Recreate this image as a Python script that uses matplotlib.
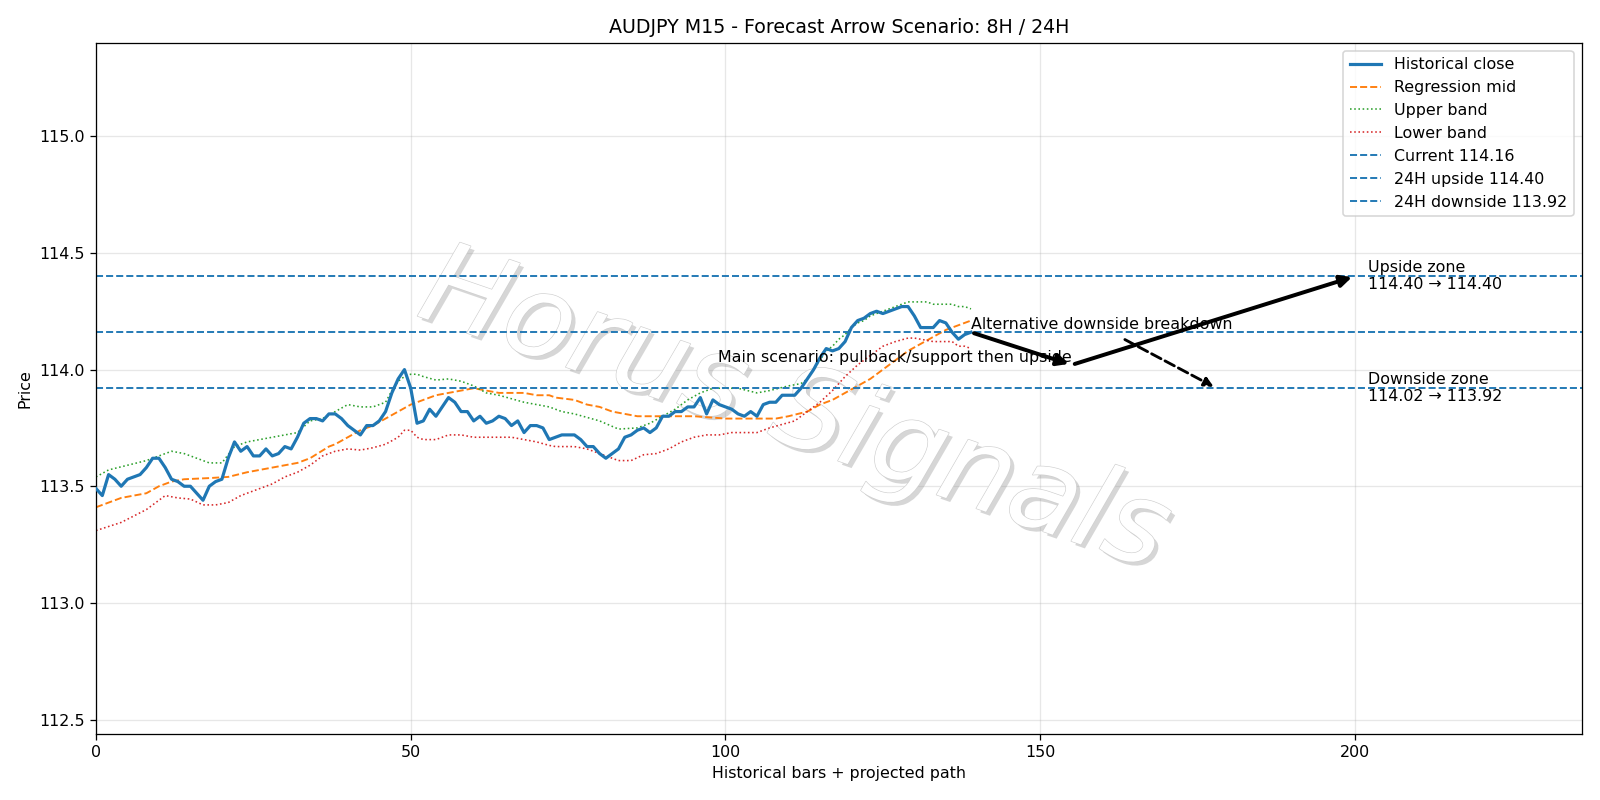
import matplotlib
matplotlib.use("Agg")
import matplotlib.pyplot as plt
import matplotlib.patheffects as pe

# data
close = [113.49, 113.46, 113.55, 113.53, 113.50, 113.53, 113.54, 113.55, 113.58, 113.62,
         113.62, 113.58, 113.53, 113.52, 113.50, 113.50, 113.47, 113.44, 113.50, 113.52,
         113.53, 113.62, 113.69, 113.65, 113.67, 113.63, 113.63, 113.66, 113.63, 113.64,
         113.67, 113.66, 113.71, 113.77, 113.79, 113.79, 113.78, 113.81, 113.81, 113.79,
         113.76, 113.74, 113.72, 113.76, 113.76, 113.78, 113.82, 113.90, 113.96, 114.00,
         113.92, 113.77, 113.78, 113.83, 113.80, 113.84, 113.88, 113.86, 113.82, 113.82,
         113.78, 113.80, 113.77, 113.78, 113.80, 113.79, 113.76, 113.78, 113.73, 113.76,
         113.76, 113.75, 113.70, 113.71, 113.72, 113.72, 113.72, 113.70, 113.67, 113.67,
         113.64, 113.62, 113.64, 113.66, 113.71, 113.72, 113.74, 113.75, 113.73, 113.75,
         113.80, 113.80, 113.82, 113.82, 113.84, 113.84, 113.88, 113.81, 113.87, 113.85,
         113.84, 113.83, 113.81, 113.80, 113.82, 113.80, 113.85, 113.86, 113.86, 113.89,
         113.89, 113.89, 113.92, 113.96, 114.00, 114.05, 114.09, 114.08, 114.09, 114.12,
         114.18, 114.21, 114.22, 114.24, 114.25, 114.24, 114.25, 114.26, 114.27, 114.27,
         114.23, 114.18, 114.18, 114.18, 114.21, 114.20, 114.16, 114.13, 114.15, 114.16]

mid_x = [0, 4, 8, 10, 12, 14, 18, 21, 24, 28, 32, 34, 37, 38, 40, 42, 44, 46, 48, 50,
         52, 54, 56, 58, 60, 62, 64, 66, 68, 70, 72, 73, 76, 78, 80, 82, 84, 86, 90, 95,
         100, 105, 108, 110, 113, 115, 117, 119, 121, 123, 125, 127, 129, 131, 133, 135, 137, 139]
mid = [113.41, 113.45, 113.47, 113.50, 113.52, 113.53, 113.535, 113.54, 113.56, 113.58,
       113.60, 113.62, 113.67, 113.68, 113.71, 113.74, 113.76, 113.79, 113.82, 113.85,
       113.87, 113.89, 113.90, 113.91, 113.92, 113.91, 113.90, 113.90, 113.90, 113.89,
       113.89, 113.88, 113.87, 113.85, 113.84, 113.82, 113.81, 113.80, 113.80, 113.80,
       113.79, 113.79, 113.79, 113.80, 113.82, 113.85, 113.87, 113.90, 113.93, 113.96,
       114.00, 114.04, 114.08, 114.11, 114.14, 114.17, 114.19, 114.21]

upper_x = [0, 2, 5, 8, 10, 12, 14, 16, 18, 20, 22, 24, 26, 28, 30, 32, 34, 36, 38, 40,
           42, 44, 46, 47, 48, 49, 50, 51, 52, 54, 56, 58, 60, 62, 64, 66, 68, 70, 72, 74,
           76, 80, 83, 86, 88, 90, 92, 94, 96, 98, 100, 102, 105, 107, 110, 112, 113, 114,
           115, 116, 117, 118, 119, 120, 121, 122, 123, 124, 125, 126, 127, 128, 129, 130,
           131, 132, 133, 134, 135, 136, 137, 138, 139]
upper = [113.54, 113.57, 113.59, 113.61, 113.63, 113.65, 113.64, 113.62, 113.60, 113.60,
         113.67, 113.69, 113.70, 113.71, 113.72, 113.73, 113.78, 113.79, 113.82, 113.85,
         113.84, 113.84, 113.86, 113.91, 113.95, 113.97, 113.98, 113.98, 113.97, 113.955,
         113.96, 113.95, 113.93, 113.90, 113.89, 113.875, 113.86, 113.85, 113.84, 113.82,
         113.81, 113.78, 113.745, 113.75, 113.77, 113.80, 113.83, 113.87, 113.90, 113.92,
         113.92, 113.92, 113.90, 113.91, 113.93, 113.94, 113.96, 114.00, 114.04, 114.08,
         114.10, 114.13, 114.15, 114.18, 114.20, 114.21, 114.23, 114.24, 114.25, 114.26,
         114.27, 114.28, 114.29, 114.29, 114.29, 114.29, 114.28, 114.28, 114.28, 114.28,
         114.27, 114.27, 114.26]

lower_x = [0, 4, 8, 10, 11, 13, 15, 17, 19, 21, 23, 25, 28, 30, 32, 34, 36, 38, 40, 42,
           44, 46, 48, 49, 50, 51, 52, 54, 56, 58, 60, 62, 64, 66, 68, 70, 72, 73, 76, 78,
           80, 82, 83, 85, 87, 89, 91, 93, 95, 97, 99, 101, 103, 105, 107, 109, 111, 113,
           115, 117, 119, 121, 123, 125, 127, 129, 130, 131, 133, 135, 136, 137, 138, 139]
lower = [113.31, 113.345, 113.40, 113.44, 113.46, 113.45, 113.445, 113.42, 113.42, 113.43,
         113.46, 113.48, 113.51, 113.54, 113.56, 113.59, 113.63, 113.65, 113.66, 113.655,
         113.665, 113.68, 113.71, 113.74, 113.74, 113.71, 113.70, 113.70, 113.72, 113.72,
         113.71, 113.71, 113.71, 113.71, 113.70, 113.69, 113.675, 113.67, 113.67, 113.66,
         113.64, 113.62, 113.61, 113.61, 113.635, 113.64, 113.66, 113.69, 113.71, 113.72,
         113.72, 113.73, 113.73, 113.73, 113.75, 113.765, 113.78, 113.82, 113.86, 113.91,
         113.97, 114.02, 114.06, 114.10, 114.12, 114.135, 114.135, 114.13, 114.12, 114.12,
         114.12, 114.10, 114.10, 114.09]

current = 114.16
up_24h = 114.40
down_24h = 113.92
pullback = 114.02
down_start = 114.02

# projected path (bar index, price)
main_pts = [(139, current), (155, pullback), (200, up_24h)]
alt_pts = [(163, 114.135), (178, down_24h)]

fig, ax = plt.subplots(figsize=(14, 7), dpi=800 / 7)
fig.subplots_adjust(left=0.06, right=0.9885, top=0.9464, bottom=0.083)

x = list(range(len(close)))
ax.plot(x, close, color="C0", lw=2, label="Historical close", zorder=3)
ax.plot(mid_x, mid, color="C1", ls="--", lw=1.2, label="Regression mid")
ax.plot(upper_x, upper, color="C2", ls=":", lw=1, label="Upper band")
ax.plot(lower_x, lower, color="C3", ls=":", lw=1, label="Lower band")
ax.axhline(current, color="C0", ls="--", lw=1.2, label=f"Current {current:.2f}")
ax.axhline(up_24h, color="C0", ls="--", lw=1.2, label=f"24H upside {up_24h:.2f}")
ax.axhline(down_24h, color="C0", ls="--", lw=1.2, label=f"24H downside {down_24h:.2f}")

for a, b in zip(main_pts[:-1], main_pts[1:]):
    ax.annotate("", xy=b, xytext=a,
                arrowprops=dict(arrowstyle="-|>", color="black", lw=2.5, mutation_scale=15),
                zorder=4)
ax.annotate("", xy=alt_pts[1], xytext=alt_pts[0],
            arrowprops=dict(arrowstyle="-|>", color="black", lw=1.8, ls="--", mutation_scale=12),
            zorder=4)

ax.text(main_pts[1][0], pullback, "Main scenario: pullback/support then upside",
        ha="right", va="bottom", fontsize=10, zorder=5)
ax.text(139, current, "Alternative downside breakdown", ha="left", va="bottom",
        fontsize=10, zorder=5)
ax.text(202, up_24h, f"Upside zone\n{up_24h:.2f} \u2192 {up_24h:.2f}", ha="left",
        va="center", fontsize=10, zorder=5)
ax.text(202, down_24h, f"Downside zone\n{down_start:.2f} \u2192 {down_24h:.2f}", ha="left",
        va="center", fontsize=10, zorder=5)

# watermark, behind the data lines
ax.text(0.47, 0.465, "Horus Signals", transform=ax.transAxes, fontsize=72,
        style="italic", color="white", rotation=-19, ha="center", va="center",
        zorder=1.8,
        path_effects=[pe.SimplePatchShadow(offset=(2.5, -2.5), shadow_rgbFace="#8c8c8c", alpha=0.35),
                      pe.Stroke(linewidth=0.8, foreground="#cfcfcf"), pe.Normal()])

ax.set_xlim(0, 236)
ax.set_ylim(112.44, 115.40)
ax.set_title("AUDJPY M15 - Forecast Arrow Scenario: 8H / 24H")
ax.set_xlabel("Historical bars + projected path")
ax.set_ylabel("Price")
ax.grid(True, alpha=0.3)
ax.legend(loc="upper right")

fig.savefig("out.png", dpi=800 / 7)
